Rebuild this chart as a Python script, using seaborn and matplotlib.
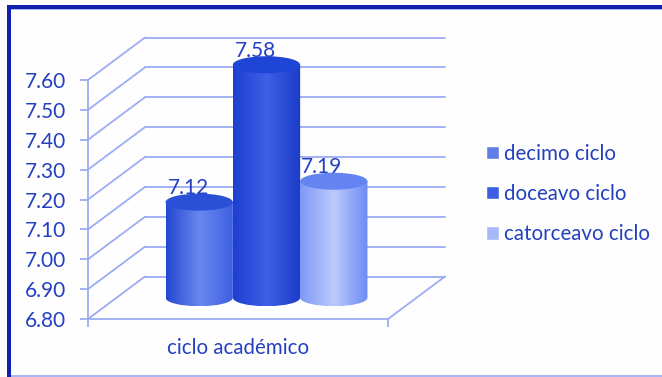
import numpy as np
import pandas as pd
import matplotlib
matplotlib.use("Agg")
import matplotlib.pyplot as plt
from matplotlib.colors import LinearSegmentedColormap
from matplotlib.lines import Line2D
from matplotlib.patches import Ellipse, PathPatch, Rectangle
from matplotlib.path import Path
from matplotlib.transforms import Affine2D
import seaborn as sns

# Mean grade per academic cycle
category = ["ciclo académico"]
cycles = ["decimo ciclo", "doceavo ciclo", "catorceavo ciclo"]
grades = [7.12, 7.58, 7.19]
y_ticks = [6.80, 6.90, 7.00, 7.10, 7.20, 7.30, 7.40, 7.50, 7.60]

# Legend swatches, cylinder shading (left, highlight, right) and cap colours
swatch_colors = ["#5f7ee8", "#3c5fe2", "#a6b7fa"]
shades = [
    ["#2347d2", "#6a88f0", "#3d5fe0"],
    ["#1c3fd0", "#3e60e6", "#1a3cc8"],
    ["#7f98f6", "#bccafd", "#6d8af2"],
]
cap_colors = ["#2a50d8", "#1f45d6", "#6484f2"]

AXIS_BLUE = "#9cacf2"
TEXT_BLUE = "#2440c0"
W, H = 662, 377

sns.set_theme(style="white")
plt.rcParams["font.family"] = ["Lato", "DejaVu Sans"]

fig = plt.figure(figsize=(W / 100, H / 100), dpi=100, facecolor="#fefefe")


def pixel_axes(left, top, right, bottom):
    """Axes placed by its pixel box, measured from the top-left corner."""
    return fig.add_axes([left / W, 1 - bottom / H, (right - left) / W, (bottom - top) / H])


# Front plane of the chart: value axis and category axis
ax = pixel_axes(88, 80, 388, 319)
ax.patch.set_alpha(0)
ax.set_xlim(-0.5, 0.5)
ax.set_ylim(y_ticks[0], y_ticks[-1])
ax.set_yticks(y_ticks, [f"{t:.2f}" for t in y_ticks])
ax.set_xticks([0], category)
ax.set_xticks([-0.5, 0.5], minor=True)
ax.tick_params(axis="y", length=6, width=1.3, color=AXIS_BLUE, pad=9.5,
               labelsize=15, labelcolor=TEXT_BLUE, left=True)
ax.tick_params(axis="x", which="major", length=0, pad=14, labelsize=14.8, labelcolor=TEXT_BLUE)
ax.tick_params(axis="x", which="minor", length=6, width=1.3, color=AXIS_BLUE, bottom=True)
for side in ("top", "right"):
    ax.spines[side].set_visible(False)
for side in ("left", "bottom"):
    ax.spines[side].set_color(AXIS_BLUE)
    ax.spines[side].set_linewidth(1.3)

# Receding walls: each gridline runs back from the front plane, then across
DEPTH_X, DEPTH_Y = 57, 42.5
back = ax.transData + Affine2D().translate(DEPTH_X, DEPTH_Y)
wall_style = dict(color=AXIS_BLUE, lw=1.3, clip_on=False, solid_capstyle="round")
for t in y_ticks:
    start = ax.transData.transform((-0.5, t))
    end = back.transform((-0.5, t))
    ax.add_line(Line2D([start[0], end[0]], [start[1], end[1]], transform=None, **wall_style))
    ax.plot([-0.5, 0.5], [t, t], transform=back, **wall_style)
floor_front = ax.transData.transform((0.5, y_ticks[0]))
floor_back = back.transform((0.5, y_ticks[0]))
ax.add_line(Line2D([floor_front[0], floor_back[0]], [floor_front[1], floor_back[1]],
                   transform=None, **wall_style))

# Cylinders stand half-way into the depth of the chart
bars_ax = pixel_axes(88 + DEPTH_X / 2, 80 - DEPTH_Y / 2, 388 + DEPTH_X / 2, 319 - DEPTH_Y / 2)
bars_ax.patch.set_alpha(0)
table = pd.DataFrame({"ciclo": category * len(cycles), "serie": cycles, "nota": grades})
sns.barplot(data=table, x="ciclo", y="nota", hue="serie", hue_order=cycles,
            palette=swatch_colors, saturation=1, width=0.673, gap=0, dodge=True,
            ax=bars_ax, legend=True)
bars_ax.set_xlim(-0.5, 0.5)
bars_ax.set_ylim(y_ticks[0], y_ticks[-1])
bars_ax.axis("off")
handles, labels = bars_ax.get_legend_handles_labels()
bars_ax.get_legend().remove()

px_per_value = 239 / (y_ticks[-1] - y_ticks[0])
cap_half = 8.5 / px_per_value
label_dx = [-11, -11, -12]
# Middle cylinder is drawn last so that it overlaps its neighbours
draw_order = {0: 3, 2: 4, 1: 5}
for i, bar in enumerate(bars_ax.patches[:len(grades)]):
    bar.set_visible(False)
    x0, width, top = bar.get_x(), bar.get_width(), bar.get_height()
    mid, base = x0 + width / 2, y_ticks[0]
    z = draw_order[i]

    # Body outline: straight sides with a rounded foot
    k = 0.5523
    verts = [(x0, top), (x0, base),
             (x0, base - k * cap_half), (mid - k * width / 2, base - cap_half), (mid, base - cap_half),
             (mid + k * width / 2, base - cap_half), (x0 + width, base - k * cap_half), (x0 + width, base),
             (x0 + width, top), (x0, top)]
    codes = [Path.MOVETO, Path.LINETO, Path.CURVE4, Path.CURVE4, Path.CURVE4,
             Path.CURVE4, Path.CURVE4, Path.CURVE4, Path.LINETO, Path.CLOSEPOLY]
    outline = PathPatch(Path(verts, codes), transform=bars_ax.transData, fc="none", ec="none")
    bars_ax.add_patch(outline)
    outline.set_clip_on(False)

    cmap = LinearSegmentedColormap.from_list(f"shade{i}", shades[i])
    body = bars_ax.imshow(np.linspace(0, 1, 128)[None, :], cmap=cmap, aspect="auto",
                          extent=(x0, x0 + width, base - cap_half, top), zorder=z)
    # The foot hangs below the axes box, so clip to the outline alone
    body.set_clip_box(fig.bbox)
    body.set_clip_path(outline)

    cap = Ellipse((mid, top), width, 2 * cap_half, fc=cap_colors[i], ec="none",
                  zorder=z + 0.1, clip_on=False)
    bars_ax.add_patch(cap)

    # Value label sits behind the cap
    bars_ax.annotate(f"{grades[i]:.2f}", (mid, top), xytext=(label_dx[i] * 0.72, 14 * 0.72),
                     textcoords="offset points", ha="center", va="center",
                     fontsize=15, color=TEXT_BLUE, zorder=2, annotation_clip=False)
bars_ax.set_xlim(-0.5, 0.5)
bars_ax.set_ylim(y_ticks[0], y_ticks[-1])

# Legend on the right
fig.legend(handles, labels, loc="center left", bbox_to_anchor=(486 / W, 1 - 194 / H),
           frameon=False, handlelength=0.63, handleheight=0.63, handletextpad=0.27,
           labelspacing=0.98, fontsize=14.8, labelcolor=TEXT_BLUE, borderpad=0, borderaxespad=0)

# Frame: heavy dark blue on the top and left, thin light blue on the other sides
FRAME = "#1220b0"
def frame_rect(x0, y0, x1, y1, color):
    fig.add_artist(Rectangle((x0 / W, 1 - y1 / H), (x1 - x0) / W, (y1 - y0) / H,
                             transform=fig.transFigure, fc=color, ec="none"))
frame_rect(7, 5, W, 9, FRAME)
frame_rect(7, 5, 11, H, FRAME)
frame_rect(11, 9, W, 10, "#a9b6f4")
frame_rect(11, 375, W, 376.5, "#a9b6f4")

fig.savefig("out.png", dpi=100, facecolor=fig.get_facecolor())
